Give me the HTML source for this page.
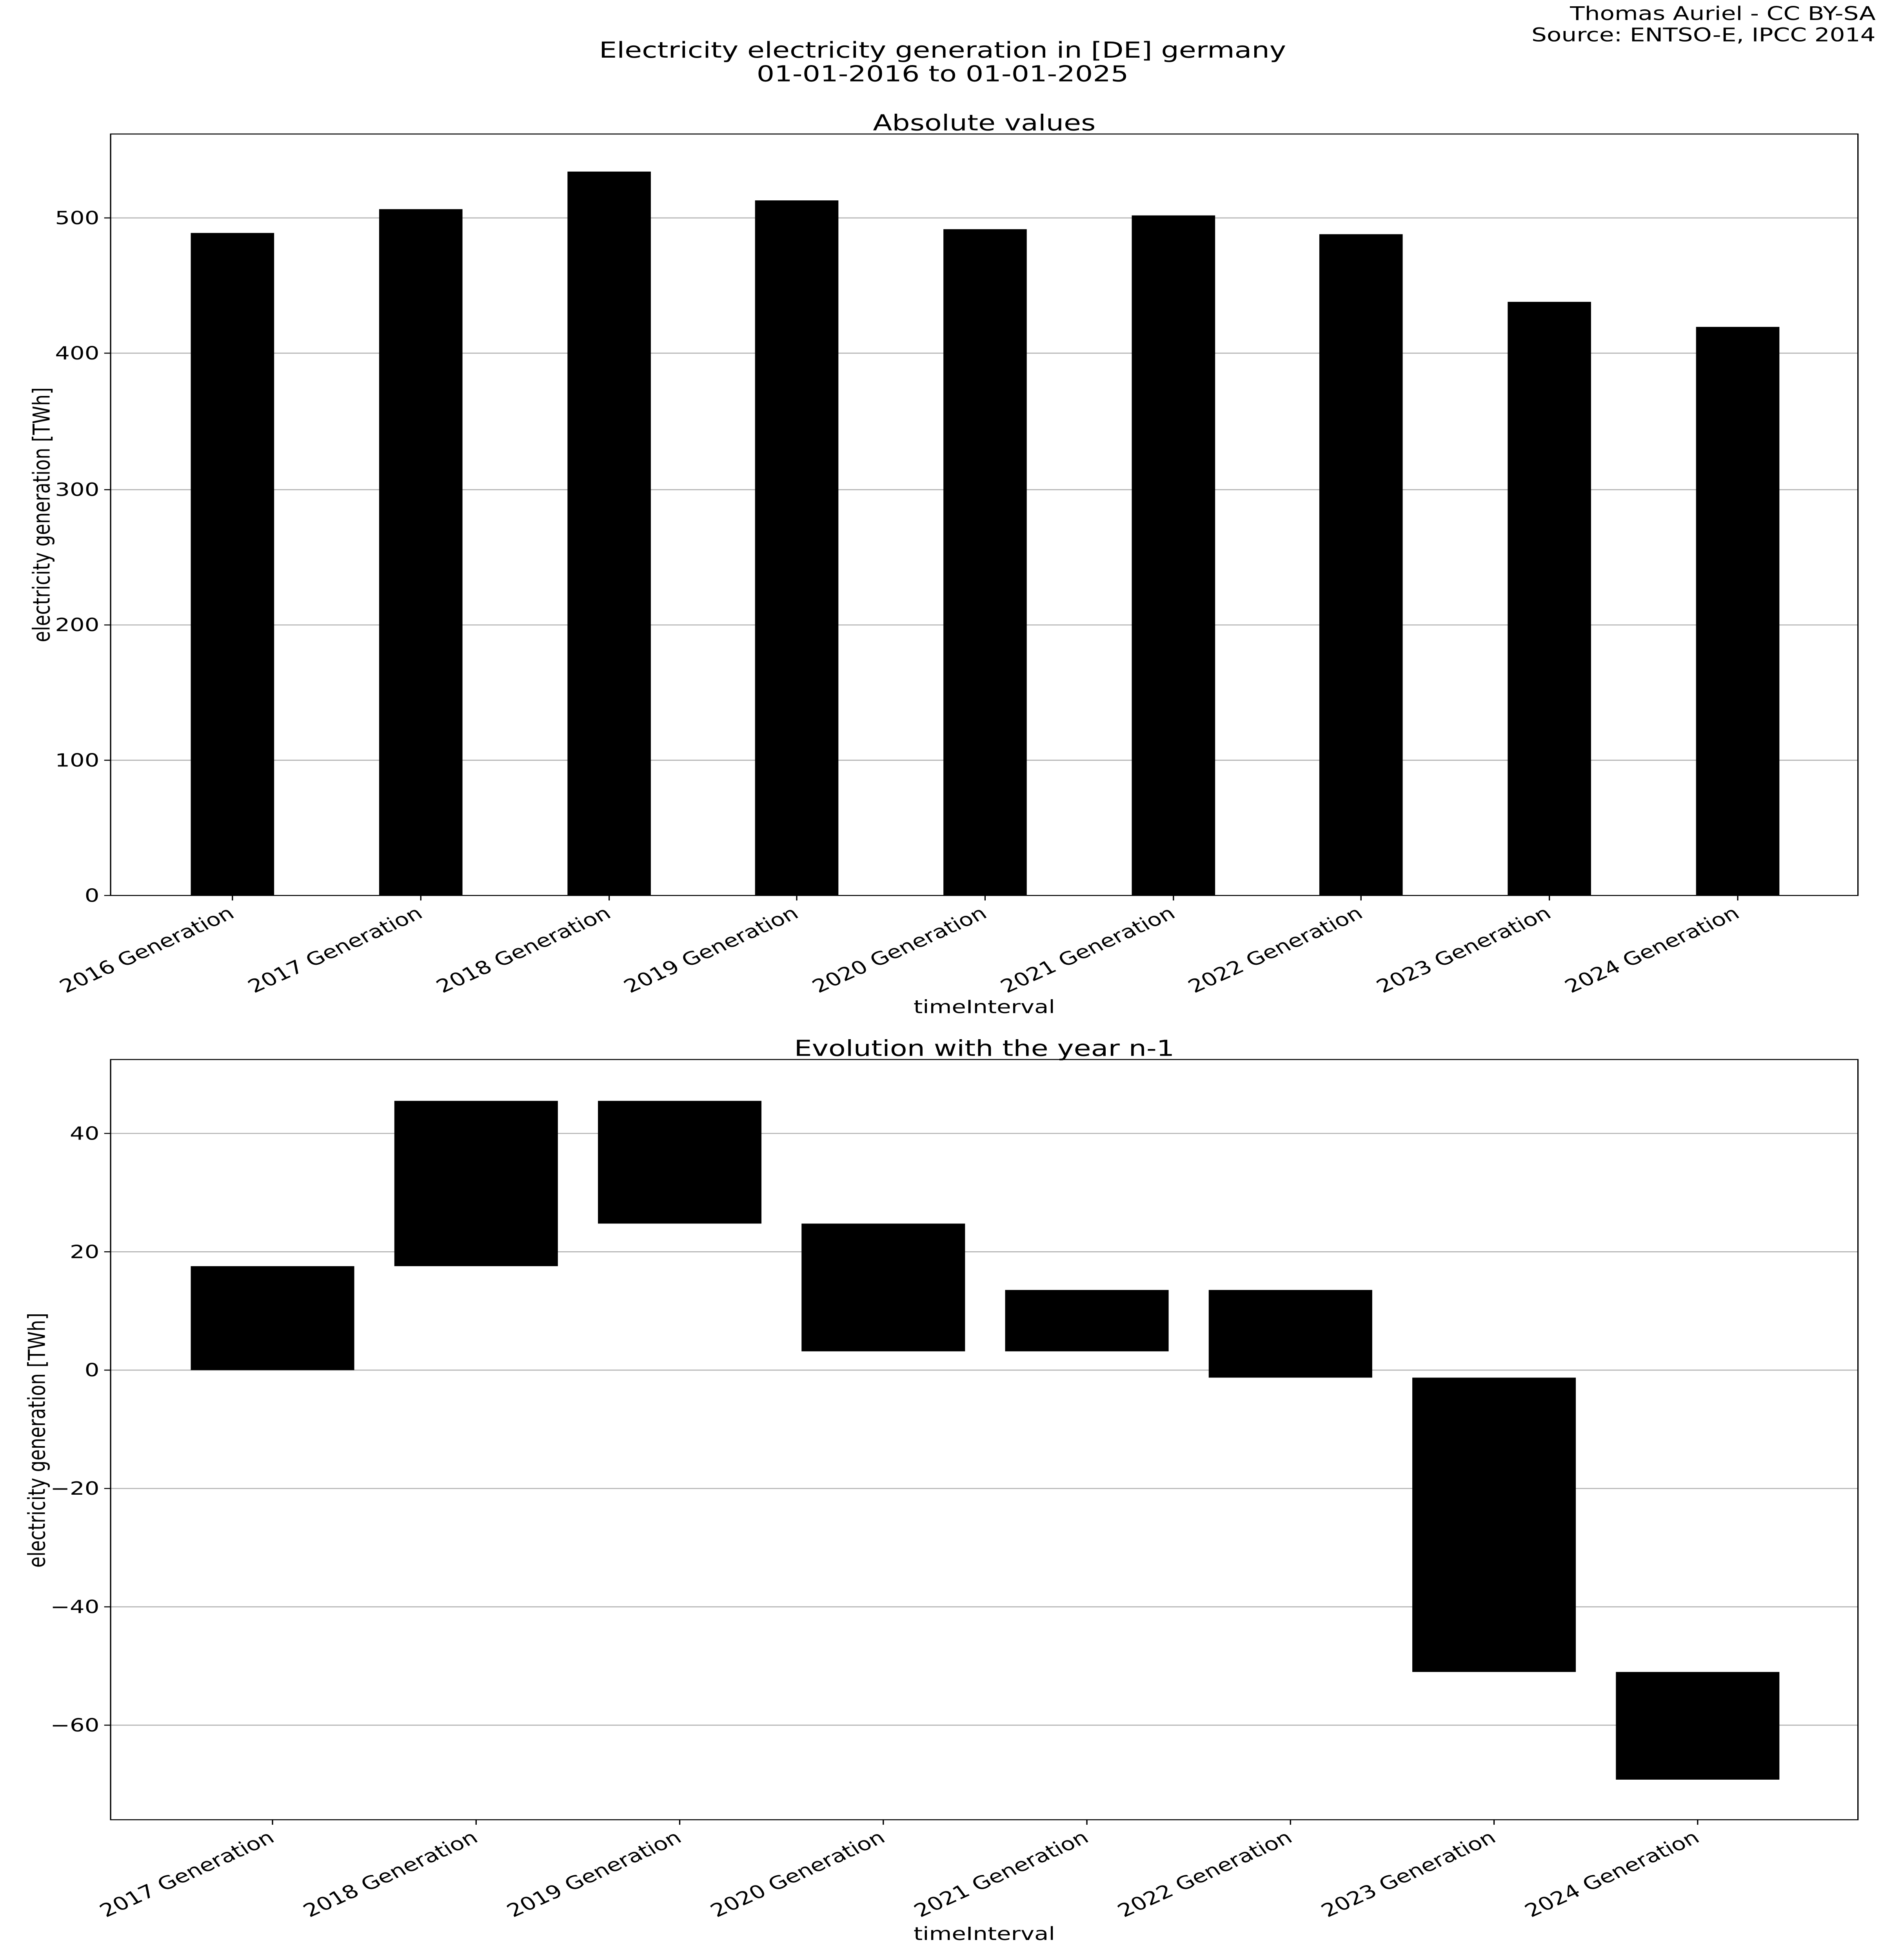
<!DOCTYPE html>
<html><head><meta charset="utf-8"><style>html,body{margin:0;padding:0;background:#fff;overflow:hidden;width:100vw;height:100vh}svg{display:block;position:fixed;left:0;top:0;width:100vw;height:100vh}text{font-family:"DejaVu Sans","Liberation Sans",sans-serif;fill:#000}</style></head><body>
<svg viewBox="0 0 1174 1565" preserveAspectRatio="none" xmlns="http://www.w3.org/2000/svg">
<rect width="1174" height="1565" fill="#fff"/>
<text x="1170" y="16" font-size="15" text-anchor="end">Thomas Auriel - CC BY-SA</text>
<text x="1170" y="33" font-size="15" text-anchor="end">Source: ENTSO-E, IPCC 2014</text>
<text x="588" y="46" font-size="17.5" text-anchor="middle">Electricity electricity generation in [DE] germany</text>
<text x="588" y="65" font-size="17.5" text-anchor="middle">01-01-2016 to 01-01-2025</text>

<text x="614" y="104" font-size="17.5" text-anchor="middle">Absolute values</text>
<g stroke="#b0b0b0" stroke-width="0.8">
<line x1="69" x2="1159" y1="607" y2="607"/><line x1="69" x2="1159" y1="499" y2="499"/><line x1="69" x2="1159" y1="391" y2="391"/><line x1="69" x2="1159" y1="282" y2="282"/><line x1="69" x2="1159" y1="174" y2="174"/>
</g>
<g fill="#000">
<rect x="119" y="186" width="52" height="529"/>
<rect x="236.5" y="167" width="52" height="548"/>
<rect x="354" y="137" width="52" height="578"/>
<rect x="471" y="160" width="52" height="555"/>
<rect x="588.5" y="183" width="52" height="532"/>
<rect x="706" y="172" width="52" height="543"/>
<rect x="823" y="187" width="52" height="528"/>
<rect x="940.5" y="241" width="52" height="474"/>
<rect x="1058" y="261" width="52" height="454"/>
</g>
<rect x="69" y="107" width="1090" height="608" fill="none" stroke="#000" stroke-width="0.8"/>
<g stroke="#000" stroke-width="0.8">
<line x1="65" x2="69" y1="715" y2="715"/><line x1="65" x2="69" y1="607" y2="607"/><line x1="65" x2="69" y1="499" y2="499"/><line x1="65" x2="69" y1="391" y2="391"/><line x1="65" x2="69" y1="282" y2="282"/><line x1="65" x2="69" y1="174" y2="174"/>
<line x1="145" x2="145" y1="715" y2="719"/><line x1="262.5" x2="262.5" y1="715" y2="719"/><line x1="380" x2="380" y1="715" y2="719"/><line x1="497" x2="497" y1="715" y2="719"/><line x1="614.5" x2="614.5" y1="715" y2="719"/><line x1="732" x2="732" y1="715" y2="719"/><line x1="849" x2="849" y1="715" y2="719"/><line x1="966.5" x2="966.5" y1="715" y2="719"/><line x1="1084" x2="1084" y1="715" y2="719"/>
</g>
<g font-size="14.5" text-anchor="end">
<text x="62" y="720">0</text><text x="62" y="612">100</text><text x="62" y="504">200</text><text x="62" y="396">300</text><text x="62" y="287">400</text><text x="62" y="179">500</text>
</g>
<g font-size="14.5" text-anchor="end">
<text transform="translate(147,732) rotate(-30)">2016 Generation</text>
<text transform="translate(264.5,732) rotate(-30)">2017 Generation</text>
<text transform="translate(382,732) rotate(-30)">2018 Generation</text>
<text transform="translate(499,732) rotate(-30)">2019 Generation</text>
<text transform="translate(616.5,732) rotate(-30)">2020 Generation</text>
<text transform="translate(734,732) rotate(-30)">2021 Generation</text>
<text transform="translate(851,732) rotate(-30)">2022 Generation</text>
<text transform="translate(968.5,732) rotate(-30)">2023 Generation</text>
<text transform="translate(1086,732) rotate(-30)">2024 Generation</text>
</g>
<text x="614" y="809" font-size="14.5" text-anchor="middle">timeInterval</text>
<text transform="translate(31,411) rotate(-90)" font-size="14.5" text-anchor="middle">electricity generation [TWh]</text>

<text x="614" y="843" font-size="17.5" text-anchor="middle">Evolution with the year n-1</text>
<g stroke="#b0b0b0" stroke-width="0.8">
<line x1="69" x2="1159" y1="905" y2="905"/><line x1="69" x2="1159" y1="999.5" y2="999.5"/><line x1="69" x2="1159" y1="1094" y2="1094"/><line x1="69" x2="1159" y1="1188.5" y2="1188.5"/><line x1="69" x2="1159" y1="1283" y2="1283"/><line x1="69" x2="1159" y1="1377.5" y2="1377.5"/>
</g>
<g fill="#000">
<rect x="119" y="1011" width="102" height="83"/>
<rect x="246" y="879" width="102" height="132"/>
<rect x="373" y="879" width="102" height="98"/>
<rect x="500" y="977" width="102" height="102"/>
<rect x="627" y="1030" width="102" height="49"/>
<rect x="754" y="1030" width="102" height="70"/>
<rect x="881" y="1100" width="102" height="235"/>
<rect x="1008" y="1335" width="102" height="86"/>
</g>
<rect x="69" y="846" width="1090" height="607" fill="none" stroke="#000" stroke-width="0.8"/>
<g stroke="#000" stroke-width="0.8">
<line x1="65" x2="69" y1="905" y2="905"/><line x1="65" x2="69" y1="999.5" y2="999.5"/><line x1="65" x2="69" y1="1094" y2="1094"/><line x1="65" x2="69" y1="1188.5" y2="1188.5"/><line x1="65" x2="69" y1="1283" y2="1283"/><line x1="65" x2="69" y1="1377.5" y2="1377.5"/>
<line x1="170" x2="170" y1="1453" y2="1457"/><line x1="297" x2="297" y1="1453" y2="1457"/><line x1="424" x2="424" y1="1453" y2="1457"/><line x1="551" x2="551" y1="1453" y2="1457"/><line x1="678" x2="678" y1="1453" y2="1457"/><line x1="805" x2="805" y1="1453" y2="1457"/><line x1="932" x2="932" y1="1453" y2="1457"/><line x1="1059" x2="1059" y1="1453" y2="1457"/>
</g>
<g font-size="14.5" text-anchor="end">
<text x="62" y="910">40</text><text x="62" y="1004.5">20</text><text x="62" y="1099">0</text><text x="62" y="1193.5">−20</text><text x="62" y="1288">−40</text><text x="62" y="1382.5">−60</text>
</g>
<g font-size="14.5" text-anchor="end">
<text transform="translate(172,1470) rotate(-30)">2017 Generation</text>
<text transform="translate(299,1470) rotate(-30)">2018 Generation</text>
<text transform="translate(426,1470) rotate(-30)">2019 Generation</text>
<text transform="translate(553,1470) rotate(-30)">2020 Generation</text>
<text transform="translate(680,1470) rotate(-30)">2021 Generation</text>
<text transform="translate(807,1470) rotate(-30)">2022 Generation</text>
<text transform="translate(934,1470) rotate(-30)">2023 Generation</text>
<text transform="translate(1061,1470) rotate(-30)">2024 Generation</text>
</g>
<text x="614" y="1549" font-size="14.5" text-anchor="middle">timeInterval</text>
<text transform="translate(28,1150) rotate(-90)" font-size="14.5" text-anchor="middle">electricity generation [TWh]</text>
</svg>
</body></html>
